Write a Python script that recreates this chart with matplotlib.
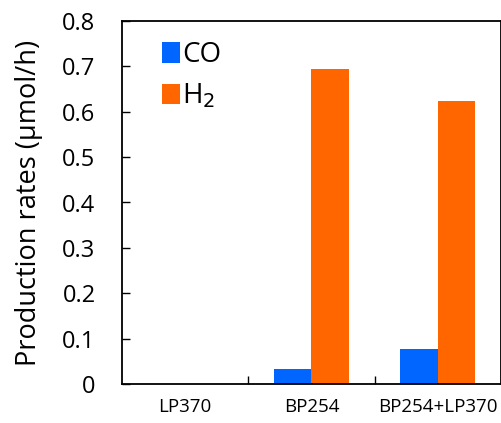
import numpy as np
import matplotlib.pyplot as plt

plt.rcParams['font.family'] = ['Open Sans', 'DejaVu Sans']

categories = ['LP370', 'BP254', 'BP254+LP370']
co_rates = [0.0, 0.033, 0.077]
h2_rates = [0.0, 0.694, 0.624]

fig = plt.figure(figsize=(5.02, 4.23), dpi=100)
ax = fig.add_axes([122 / 502, 1 - 384 / 423, 379 / 502, 363 / 423])

x = np.arange(len(categories))
w = 0.296
ax.bar(x - w / 2, co_rates, w, color='#0066ff', label='CO')
ax.bar(x + w / 2, h2_rates, w, color='#ff6600', label='H$_2$')

ax.set_xlim(-0.5, 2.5)
ax.set_ylim(0, 0.8)
ax.set_yticks(np.arange(0, 0.81, 0.1))
ax.set_yticklabels(['0'] + [f'{v:.1f}' for v in np.arange(0.1, 0.81, 0.1)], fontsize=17)
ax.tick_params(axis='y', direction='in', length=6, width=1, pad=19)

ax.set_xticks(x)
ax.set_xticklabels(categories, fontsize=13.5)
ax.set_xticks([0.5, 1.5], minor=True)
ax.tick_params(axis='x', which='major', length=0, pad=10)
ax.tick_params(axis='x', which='minor', direction='in', length=6, width=1)

for s in ax.spines.values():
    s.set_linewidth(1.3)

ax.set_ylabel('Production rates (μmol/h)', fontsize=19.5, labelpad=14)

ax.legend(loc='upper left', bbox_to_anchor=(0.077, 0.975), frameon=False,
          fontsize=20, handlelength=0.62, handleheight=0.75, handletextpad=0.1,
          labelspacing=0.45, borderaxespad=0)

fig.savefig('out.png', dpi=100)
